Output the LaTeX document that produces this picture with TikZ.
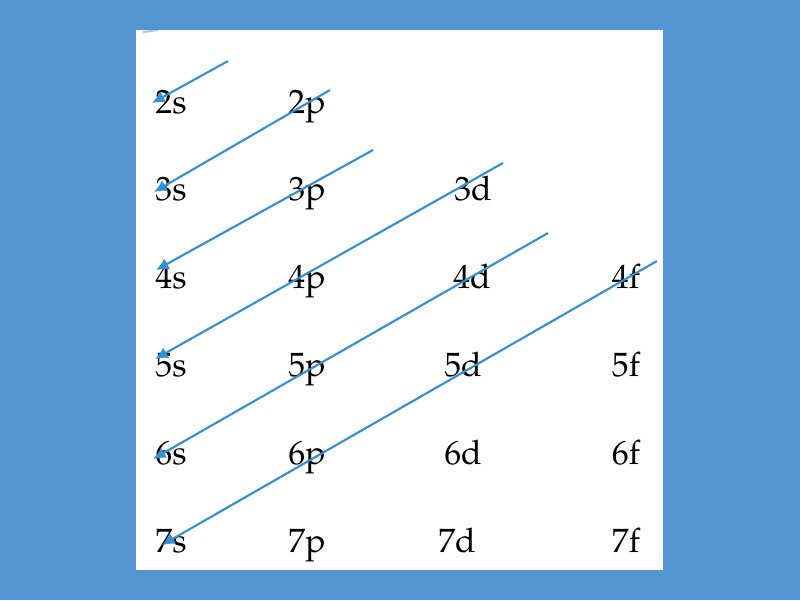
\documentclass[tikz,border=0pt]{standalone}
\usepackage[T1]{fontenc}
\renewcommand{\rmdefault}{ppl}
\usepackage{tikz}
\usetikzlibrary{arrows.meta}

\definecolor{backblue}{RGB}{84,148,208}
\definecolor{lineblue}{RGB}{52,144,214}

\tikzset{
    orb/.style={anchor=base,inner sep=0pt,text=black,font=\fontsize{24}{28}\selectfont},
    arr/.style={draw=lineblue,line width=1.5pt,-{Latex[length=9pt,width=8.5pt]}}
}

\begin{document}
\begin{tikzpicture}[x=0.025cm,y=-0.025cm]
    \fill[backblue] (0,0) rectangle (800,600);
    \fill[white] (136,30) rectangle (663,570);
    \useasboundingbox (0,0) rectangle (800,600);

    % orbital labels
    \foreach \n in {2,...,7} {
        \node[orb] (s\n) at (171, {113+87.8*(\n-2)}) {\n s};
        \node[orb] (p\n) at (307, {113+87.8*(\n-2)}) {\n p};
    };

    \foreach \n/\x in {3/473,4/472,5/463,6/463,7/457}
        \node[orb] (d\n) at (\x, {113+87.8*(\n-2)}) {\n d};

    \foreach \n in {4,...,7}
        \node[orb] (f\n) at (626, {113+87.8*(\n-2)}) {\n f};

    % arrow ends
    \coordinate (t0) at (158,30);   \coordinate (h0) at (143,32);
    \coordinate (t1) at (228,61);   \coordinate (h1) at (152,103);
    \coordinate (t2) at (330,90);   \coordinate (h2) at (154,192);
    \coordinate (t3) at (373,150);  \coordinate (h3) at (156,270);
    \coordinate (t4) at (503,163);  \coordinate (h4) at (155,359);
    \coordinate (t5) at (548,233);  \coordinate (h5) at (153,459);
    \coordinate (t6) at (657,261);  \coordinate (h6) at (162,545);

    \draw[draw=lineblue,line width=1.5pt,opacity=.45] (t0) -- (h0);
    \foreach \i in {1,...,6}
        \draw[arr] (t\i) -- (h\i);
\end{tikzpicture}
\end{document}
